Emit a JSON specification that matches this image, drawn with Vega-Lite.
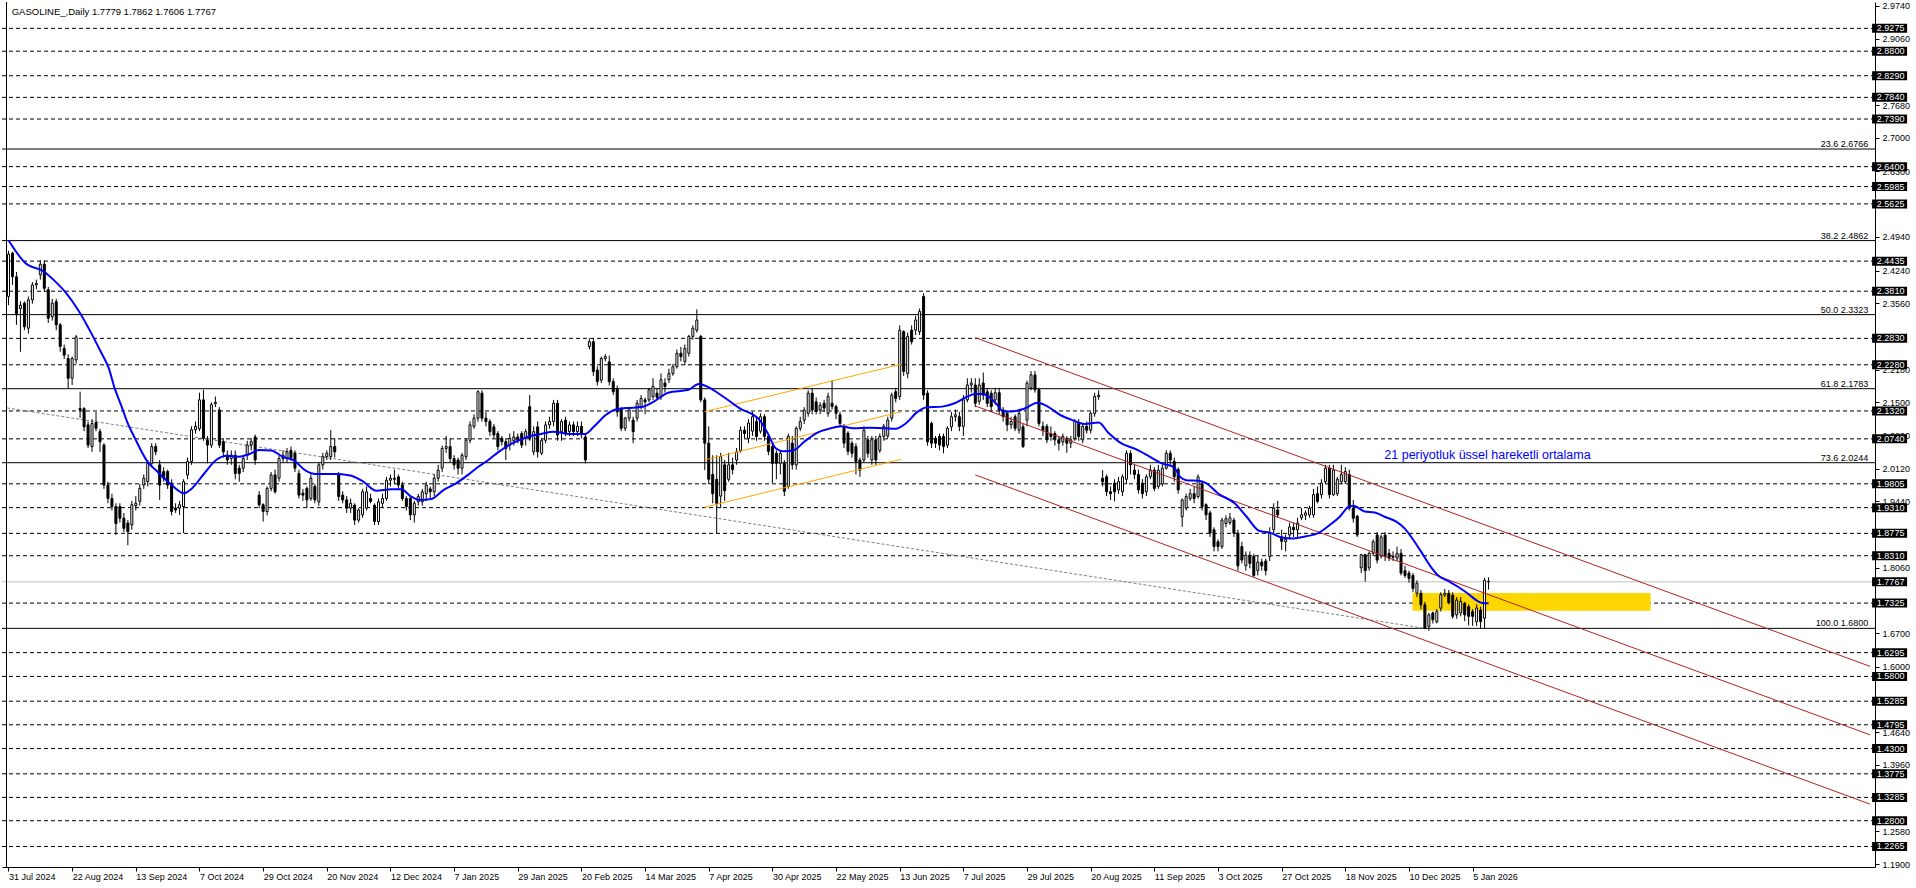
{
  "$schema": "https://vega.github.io/schema/vega-lite/v6.json",
  "width": 1873,
  "height": 865,
  "autosize": {"type": "none"},
  "padding": {"left": 2, "top": 2, "right": 41, "bottom": 21},
  "background": "#ffffff",
  "config": {"view": {"stroke": null}},
  "datasets": {
    "levels": [{"v":2.9275},{"v":2.8800},{"v":2.8290},{"v":2.7840},{"v":2.7390},{"v":2.6400},{"v":2.5985},{"v":2.5625},{"v":2.4435},{"v":2.3810},{"v":2.2830},{"v":2.2280},{"v":2.1320},{"v":2.0740},{"v":1.9805},{"v":1.9310},{"v":1.8775},{"v":1.8310},{"v":1.7325},{"v":1.6295},{"v":1.5800},{"v":1.5285},{"v":1.4795},{"v":1.4300},{"v":1.3775},{"v":1.3285},{"v":1.2800},{"v":1.2265}],
    "boxes": [{"v":2.9275},{"v":2.8800},{"v":2.8290},{"v":2.7840},{"v":2.7390},{"v":2.6400},{"v":2.5985},{"v":2.5625},{"v":2.4435},{"v":2.3810},{"v":2.2830},{"v":2.2280},{"v":2.1320},{"v":2.0740},{"v":1.9805},{"v":1.9310},{"v":1.8775},{"v":1.8310},{"v":1.7767},{"v":1.7325},{"v":1.6295},{"v":1.5800},{"v":1.5285},{"v":1.4795},{"v":1.4300},{"v":1.3775},{"v":1.3285},{"v":1.2800},{"v":1.2265}],
    "fib": [{"v":2.6766,"t":"23.6 2.6766"},{"v":2.4862,"t":"38.2 2.4862"},{"v":2.3323,"t":"50.0 2.3323"},{"v":2.1783,"t":"61.8 2.1783"},{"v":2.0244,"t":"73.6 2.0244"},{"v":1.6800,"t":"100.0 1.6800"}],
    "price": [{"v":1.7767}],
    "zone": [{"a":352.9,"b":412.75,"p1":1.7537,"p2":1.7168}],
    "red": [{"a":243.0,"p1":2.2844,"b":467.875,"p2":1.6010},{"a":243.0,"p1":2.1424,"b":467.875,"p2":1.4586},{"a":243.0,"p1":1.9990,"b":467.875,"p2":1.3145}],
    "orange": [{"a":174.95,"p1":2.1305,"b":224.4,"p2":2.2291},{"a":174.95,"p1":2.0301,"b":224.4,"p2":2.1305},{"a":174.95,"p1":1.9318,"b":224.4,"p2":2.0316}],
    "grey": [{"a":-0.375,"p1":2.1383,"b":355.8,"p2":1.6802}],
    "ema": [{"i":0,"v":2.487},{"i":4.3,"v":2.439},{"i":8.9,"v":2.422},{"i":11.4,"v":2.404},{"i":14.5,"v":2.377},{"i":17.5,"v":2.342},{"i":20.6,"v":2.297},{"i":23.2,"v":2.255},{"i":25.2,"v":2.221},{"i":26.7,"v":2.179},{"i":28.3,"v":2.144},{"i":29.8,"v":2.110},{"i":31.8,"v":2.075},{"i":34.9,"v":2.027},{"i":37.4,"v":2.006},{"i":41,"v":1.978},{"i":44.1,"v":1.961},{"i":46.1,"v":1.971},{"i":49.2,"v":2.002},{"i":52.2,"v":2.030},{"i":54.8,"v":2.039},{"i":57.9,"v":2.037},{"i":60.4,"v":2.042},{"i":63,"v":2.051},{"i":66,"v":2.050},{"i":69.1,"v":2.036},{"i":71.6,"v":2.030},{"i":74.7,"v":2.008},{"i":77.2,"v":2.001},{"i":81.8,"v":2.001},{"i":85.9,"v":1.998},{"i":89,"v":1.986},{"i":92.5,"v":1.966},{"i":96.1,"v":1.969},{"i":98.7,"v":1.969},{"i":101.2,"v":1.954},{"i":103.3,"v":1.947},{"i":106.3,"v":1.949},{"i":109.4,"v":1.968},{"i":112.4,"v":1.981},{"i":115.5,"v":1.999},{"i":118.1,"v":2.016},{"i":120.6,"v":2.030},{"i":123.2,"v":2.047},{"i":126.7,"v":2.065},{"i":130.8,"v":2.079},{"i":133.9,"v":2.084},{"i":136.9,"v":2.089},{"i":141,"v":2.084},{"i":144.9,"v":2.084},{"i":147.1,"v":2.099},{"i":150.2,"v":2.124},{"i":152.2,"v":2.134},{"i":155.3,"v":2.138},{"i":159,"v":2.140},{"i":162.3,"v":2.152},{"i":165.8,"v":2.170},{"i":170.9,"v":2.176},{"i":173.5,"v":2.188},{"i":176,"v":2.181},{"i":179.6,"v":2.162},{"i":183.7,"v":2.138},{"i":188.8,"v":2.113},{"i":190.8,"v":2.086},{"i":192.9,"v":2.054},{"i":194.9,"v":2.048},{"i":197.5,"v":2.051},{"i":200,"v":2.068},{"i":203.1,"v":2.086},{"i":206.6,"v":2.096},{"i":209.2,"v":2.100},{"i":212.3,"v":2.096},{"i":216.3,"v":2.097},{"i":220.4,"v":2.096},{"i":223,"v":2.095},{"i":225.5,"v":2.106},{"i":228.6,"v":2.131},{"i":230.6,"v":2.139},{"i":234.7,"v":2.141},{"i":237.8,"v":2.148},{"i":240.8,"v":2.161},{"i":242.9,"v":2.167},{"i":244.9,"v":2.167},{"i":246.9,"v":2.158},{"i":248.5,"v":2.145},{"i":250,"v":2.131},{"i":252.1,"v":2.131},{"i":255.1,"v":2.136},{"i":258.7,"v":2.149},{"i":261.2,"v":2.141},{"i":264.3,"v":2.124},{"i":267.4,"v":2.113},{"i":270.4,"v":2.105},{"i":274,"v":2.108},{"i":276.5,"v":2.086},{"i":279.6,"v":2.065},{"i":283.2,"v":2.053},{"i":286.8,"v":2.037},{"i":289.8,"v":2.023},{"i":292.9,"v":2.015},{"i":294.5,"v":1.995},{"i":296,"v":1.988},{"i":299,"v":1.987},{"i":301,"v":1.982},{"i":304.1,"v":1.960},{"i":308.2,"v":1.940},{"i":311.2,"v":1.912},{"i":314.3,"v":1.883},{"i":317.4,"v":1.878},{"i":320,"v":1.869},{"i":323,"v":1.867},{"i":325.9,"v":1.871},{"i":329.2,"v":1.878},{"i":332.1,"v":1.895},{"i":334.6,"v":1.912},{"i":336.7,"v":1.932},{"i":338,"v":1.935},{"i":340.9,"v":1.923},{"i":343.4,"v":1.921},{"i":345.9,"v":1.912},{"i":348.8,"v":1.902},{"i":350.9,"v":1.888},{"i":352.5,"v":1.871},{"i":355,"v":1.840},{"i":357.5,"v":1.808},{"i":359.2,"v":1.791},{"i":361.7,"v":1.779},{"i":364.2,"v":1.767},{"i":366.7,"v":1.753},{"i":369.2,"v":1.737},{"i":370.9,"v":1.732},{"i":372,"v":1.732}],
    "k": [
{"i":0,"o":2.37,"h":2.465,"l":2.352,"c":2.458},{"i":1,"o":2.46,"h":2.463,"l":2.394,"c":2.411},{"i":2,"o":2.411,"h":2.421,"l":2.311,"c":2.332},{"i":3,"o":2.345,"h":2.36,"l":2.255,"c":2.352},{"i":4,"o":2.356,"h":2.36,"l":2.30,"c":2.307},{"i":5,"o":2.304,"h":2.37,"l":2.293,"c":2.363},{"i":6,"o":2.363,"h":2.40,"l":2.355,"c":2.394},{"i":7,"o":2.394,"h":2.405,"l":2.385,"c":2.397},{"i":8,"o":2.415,"h":2.445,"l":2.405,"c":2.437},{"i":9,"o":2.437,"h":2.445,"l":2.38,"c":2.387},
{"i":10,"o":2.384,"h":2.39,"l":2.315,"c":2.325},{"i":11,"o":2.328,"h":2.365,"l":2.32,"c":2.356},{"i":12,"o":2.359,"h":2.365,"l":2.30,"c":2.311},{"i":13,"o":2.311,"h":2.315,"l":2.255,"c":2.266},{"i":14,"o":2.262,"h":2.27,"l":2.24,"c":2.248},{"i":15,"o":2.241,"h":2.25,"l":2.179,"c":2.20},{"i":16,"o":2.20,"h":2.245,"l":2.186,"c":2.241},{"i":17,"o":2.238,"h":2.29,"l":2.23,"c":2.286},{"i":18,"o":2.137,"h":2.172,"l":2.117,"c":2.134},{"i":19,"o":2.137,"h":2.14,"l":2.09,"c":2.099},
{"i":20,"o":2.103,"h":2.11,"l":2.055,"c":2.061},{"i":21,"o":2.058,"h":2.115,"l":2.047,"c":2.106},{"i":22,"o":2.108,"h":2.13,"l":2.09,"c":2.096},{"i":23,"o":2.089,"h":2.095,"l":2.047,"c":2.068},{"i":24,"o":2.061,"h":2.065,"l":1.97,"c":1.978},{"i":25,"o":1.978,"h":1.985,"l":1.94,"c":1.95},{"i":26,"o":1.95,"h":1.96,"l":1.925,"c":1.933},{"i":27,"o":1.933,"h":1.94,"l":1.874,"c":1.898},{"i":28,"o":1.933,"h":1.94,"l":1.90,"c":1.909},{"i":29,"o":1.909,"h":1.92,"l":1.88,"c":1.888},
{"i":30,"o":1.899,"h":1.905,"l":1.853,"c":1.881},{"i":31,"o":1.895,"h":1.945,"l":1.885,"c":1.937},{"i":32,"o":1.935,"h":1.955,"l":1.925,"c":1.94},{"i":33,"o":1.944,"h":1.98,"l":1.935,"c":1.971},{"i":34,"o":1.978,"h":2.0,"l":1.97,"c":1.992},{"i":35,"o":1.985,"h":2.03,"l":1.975,"c":2.023},{"i":36,"o":2.023,"h":2.065,"l":2.015,"c":2.058},{"i":37,"o":2.058,"h":2.065,"l":2.04,"c":2.047},{"i":38,"o":2.02,"h":2.03,"l":1.947,"c":1.978},{"i":39,"o":2.006,"h":2.015,"l":1.985,"c":1.992},
{"i":40,"o":2.006,"h":2.01,"l":1.97,"c":1.978},{"i":41,"o":1.982,"h":1.99,"l":1.915,"c":1.923},{"i":42,"o":1.93,"h":1.94,"l":1.92,"c":1.926},{"i":43,"o":1.93,"h":1.945,"l":1.916,"c":1.937},{"i":44,"o":1.933,"h":1.99,"l":1.878,"c":1.985},{"i":45,"o":1.999,"h":2.035,"l":1.99,"c":2.027},{"i":46,"o":2.027,"h":2.10,"l":2.02,"c":2.093},{"i":47,"o":2.093,"h":2.11,"l":2.085,"c":2.10},{"i":48,"o":2.095,"h":2.17,"l":2.09,"c":2.155},{"i":49,"o":2.155,"h":2.176,"l":2.07,"c":2.075},
{"i":50,"o":2.071,"h":2.08,"l":2.023,"c":2.061},{"i":51,"o":2.061,"h":2.15,"l":2.055,"c":2.145},{"i":52,"o":2.147,"h":2.162,"l":2.14,"c":2.15},{"i":53,"o":2.134,"h":2.14,"l":2.055,"c":2.061},{"i":54,"o":2.068,"h":2.075,"l":2.035,"c":2.047},{"i":55,"o":2.04,"h":2.05,"l":2.02,"c":2.03},{"i":56,"o":2.033,"h":2.05,"l":2.02,"c":2.04},{"i":57,"o":2.04,"h":2.05,"l":1.99,"c":2.002},{"i":58,"o":2.013,"h":2.02,"l":1.985,"c":2.002},{"i":59,"o":2.013,"h":2.04,"l":2.005,"c":2.033},
{"i":60,"o":2.04,"h":2.07,"l":2.03,"c":2.061},{"i":61,"o":2.061,"h":2.075,"l":2.05,"c":2.068},{"i":62,"o":2.078,"h":2.083,"l":2.02,"c":2.03},{"i":63,"o":1.957,"h":1.965,"l":1.93,"c":1.937},{"i":64,"o":1.937,"h":1.94,"l":1.902,"c":1.923},{"i":65,"o":1.923,"h":1.975,"l":1.915,"c":1.971},{"i":66,"o":1.971,"h":2.005,"l":1.965,"c":1.999},{"i":67,"o":1.999,"h":2.01,"l":1.96,"c":1.964},{"i":68,"o":1.992,"h":2.04,"l":1.985,"c":2.033},{"i":69,"o":2.033,"h":2.05,"l":2.025,"c":2.04},
{"i":70,"o":2.033,"h":2.055,"l":2.025,"c":2.047},{"i":71,"o":2.05,"h":2.058,"l":2.028,"c":2.035},{"i":72,"o":2.044,"h":2.05,"l":2.005,"c":2.013},{"i":73,"o":2.002,"h":2.01,"l":1.95,"c":1.957},{"i":74,"o":1.961,"h":1.97,"l":1.945,"c":1.957},{"i":75,"o":1.971,"h":1.975,"l":1.93,"c":1.947},{"i":76,"o":1.95,"h":2.0,"l":1.945,"c":1.992},{"i":77,"o":1.975,"h":1.98,"l":1.94,"c":1.947},{"i":78,"o":1.943,"h":2.025,"l":1.935,"c":2.02},{"i":79,"o":2.02,"h":2.045,"l":2.01,"c":2.037},
{"i":80,"o":2.037,"h":2.05,"l":2.03,"c":2.044},{"i":81,"o":2.037,"h":2.092,"l":2.03,"c":2.058},{"i":82,"o":2.058,"h":2.075,"l":2.035,"c":2.047},{"i":83,"o":1.999,"h":2.005,"l":1.945,"c":1.954},{"i":84,"o":1.957,"h":1.965,"l":1.94,"c":1.947},{"i":85,"o":1.947,"h":1.955,"l":1.92,"c":1.93},{"i":86,"o":1.93,"h":1.95,"l":1.92,"c":1.94},{"i":87,"o":1.936,"h":1.94,"l":1.895,"c":1.905},{"i":88,"o":1.905,"h":1.93,"l":1.90,"c":1.926},{"i":89,"o":1.916,"h":1.97,"l":1.91,"c":1.964},
{"i":90,"o":1.93,"h":1.975,"l":1.925,"c":1.964},{"i":91,"o":1.95,"h":1.96,"l":1.94,"c":1.944},{"i":92,"o":1.936,"h":1.94,"l":1.895,"c":1.902},{"i":93,"o":1.902,"h":1.95,"l":1.895,"c":1.943},{"i":94,"o":1.94,"h":1.96,"l":1.93,"c":1.95},{"i":95,"o":1.95,"h":1.995,"l":1.945,"c":1.988},{"i":96,"o":1.988,"h":2.0,"l":1.975,"c":1.992},{"i":97,"o":1.992,"h":2.01,"l":1.98,"c":1.99},{"i":98,"o":1.995,"h":2.0,"l":1.97,"c":1.978},{"i":99,"o":1.978,"h":1.985,"l":1.945,"c":1.95},
{"i":100,"o":1.95,"h":1.955,"l":1.925,"c":1.933},{"i":101,"o":1.95,"h":1.955,"l":1.905,"c":1.916},{"i":102,"o":1.916,"h":1.945,"l":1.90,"c":1.94},{"i":103,"o":1.943,"h":1.96,"l":1.935,"c":1.954},{"i":104,"o":1.943,"h":1.97,"l":1.935,"c":1.964},{"i":105,"o":1.96,"h":1.985,"l":1.945,"c":1.978},{"i":106,"o":1.97,"h":1.975,"l":1.95,"c":1.964},{"i":107,"o":1.964,"h":2.0,"l":1.955,"c":1.992},{"i":108,"o":1.992,"h":2.02,"l":1.985,"c":2.009},{"i":109,"o":2.013,"h":2.06,"l":2.005,"c":2.054},
{"i":110,"o":2.054,"h":2.08,"l":2.045,"c":2.058},{"i":111,"o":2.058,"h":2.075,"l":2.025,"c":2.033},{"i":112,"o":2.033,"h":2.04,"l":2.01,"c":2.02},{"i":113,"o":2.03,"h":2.035,"l":2.0,"c":2.013},{"i":114,"o":2.013,"h":2.045,"l":2.0,"c":2.04},{"i":115,"o":2.037,"h":2.075,"l":2.03,"c":2.071},{"i":116,"o":2.071,"h":2.11,"l":2.065,"c":2.103},{"i":117,"o":2.10,"h":2.125,"l":2.095,"c":2.117},{"i":118,"o":2.117,"h":2.175,"l":2.11,"c":2.172},{"i":119,"o":2.169,"h":2.175,"l":2.11,"c":2.117},
{"i":120,"o":2.117,"h":2.13,"l":2.10,"c":2.11},{"i":121,"o":2.11,"h":2.115,"l":2.08,"c":2.089},{"i":122,"o":2.099,"h":2.105,"l":2.075,"c":2.082},{"i":123,"o":2.085,"h":2.09,"l":2.05,"c":2.058},{"i":124,"o":2.075,"h":2.08,"l":2.06,"c":2.068},{"i":125,"o":2.068,"h":2.075,"l":2.03,"c":2.054},{"i":126,"o":2.061,"h":2.085,"l":2.05,"c":2.075},{"i":127,"o":2.07,"h":2.09,"l":2.06,"c":2.078},{"i":128,"o":2.078,"h":2.085,"l":2.065,"c":2.072},{"i":129,"o":2.085,"h":2.09,"l":2.055,"c":2.061},
{"i":130,"o":2.075,"h":2.095,"l":2.06,"c":2.089},{"i":131,"o":2.141,"h":2.165,"l":2.07,"c":2.075},{"i":132,"o":2.047,"h":2.10,"l":2.04,"c":2.089},{"i":133,"o":2.099,"h":2.11,"l":2.035,"c":2.047},{"i":134,"o":2.044,"h":2.075,"l":2.04,"c":2.071},{"i":135,"o":2.071,"h":2.11,"l":2.065,"c":2.103},{"i":136,"o":2.103,"h":2.12,"l":2.095,"c":2.11},{"i":137,"o":2.11,"h":2.155,"l":2.10,"c":2.148},{"i":138,"o":2.148,"h":2.155,"l":2.07,"c":2.082},{"i":139,"o":2.089,"h":2.115,"l":2.07,"c":2.11},
{"i":140,"o":2.113,"h":2.12,"l":2.08,"c":2.085},{"i":141,"o":2.089,"h":2.11,"l":2.08,"c":2.103},{"i":142,"o":2.103,"h":2.11,"l":2.08,"c":2.089},{"i":143,"o":2.089,"h":2.11,"l":2.08,"c":2.10},{"i":144,"o":2.10,"h":2.11,"l":2.075,"c":2.085},{"i":145,"o":2.078,"h":2.085,"l":2.023,"c":2.03},{"i":146,"o":2.266,"h":2.283,"l":2.26,"c":2.276},{"i":147,"o":2.276,"h":2.283,"l":2.205,"c":2.214},{"i":148,"o":2.217,"h":2.225,"l":2.185,"c":2.193},{"i":149,"o":2.196,"h":2.245,"l":2.19,"c":2.241},
{"i":150,"o":2.241,"h":2.25,"l":2.235,"c":2.245},{"i":151,"o":2.234,"h":2.247,"l":2.185,"c":2.193},{"i":152,"o":2.193,"h":2.20,"l":2.165,"c":2.172},{"i":153,"o":2.179,"h":2.185,"l":2.12,"c":2.13},{"i":154,"o":2.137,"h":2.14,"l":2.09,"c":2.096},{"i":155,"o":2.096,"h":2.12,"l":2.09,"c":2.117},{"i":156,"o":2.117,"h":2.14,"l":2.11,"c":2.134},{"i":157,"o":2.113,"h":2.12,"l":2.065,"c":2.089},{"i":158,"o":2.117,"h":2.155,"l":2.11,"c":2.148},{"i":159,"o":2.141,"h":2.165,"l":2.135,"c":2.158},
{"i":160,"o":2.155,"h":2.16,"l":2.125,"c":2.151},{"i":161,"o":2.155,"h":2.18,"l":2.15,"c":2.176},{"i":162,"o":2.162,"h":2.20,"l":2.155,"c":2.183},{"i":163,"o":2.169,"h":2.18,"l":2.155,"c":2.16},{"i":164,"o":2.162,"h":2.21,"l":2.155,"c":2.197},{"i":165,"o":2.19,"h":2.20,"l":2.17,"c":2.183},{"i":166,"o":2.197,"h":2.22,"l":2.19,"c":2.21},{"i":167,"o":2.21,"h":2.23,"l":2.205,"c":2.224},{"i":168,"o":2.224,"h":2.26,"l":2.22,"c":2.252},{"i":169,"o":2.252,"h":2.265,"l":2.235,"c":2.245},
{"i":170,"o":2.235,"h":2.27,"l":2.228,"c":2.262},{"i":171,"o":2.252,"h":2.29,"l":2.245,"c":2.287},{"i":172,"o":2.287,"h":2.31,"l":2.28,"c":2.304},{"i":173,"o":2.30,"h":2.343,"l":2.295,"c":2.321},{"i":174,"o":2.287,"h":2.29,"l":2.15,"c":2.155},{"i":175,"o":2.155,"h":2.16,"l":2.009,"c":2.065},{"i":176,"o":2.065,"h":2.10,"l":1.98,"c":1.99},{"i":177,"o":2.00,"h":2.04,"l":1.94,"c":1.96},{"i":178,"o":1.99,"h":2.04,"l":1.878,"c":1.94},{"i":179,"o":1.955,"h":2.045,"l":1.93,"c":2.037},
{"i":180,"o":2.02,"h":2.03,"l":1.945,"c":1.966},{"i":181,"o":1.99,"h":2.045,"l":1.985,"c":2.02},{"i":182,"o":2.02,"h":2.035,"l":2.0,"c":2.01},{"i":183,"o":2.03,"h":2.055,"l":2.02,"c":2.047},{"i":184,"o":2.05,"h":2.10,"l":2.045,"c":2.092},{"i":185,"o":2.092,"h":2.10,"l":2.075,"c":2.085},{"i":186,"o":2.075,"h":2.115,"l":2.065,"c":2.107},{"i":187,"o":2.09,"h":2.13,"l":2.08,"c":2.12},{"i":188,"o":2.11,"h":2.12,"l":2.07,"c":2.079},{"i":189,"o":2.09,"h":2.127,"l":2.085,"c":2.12},
{"i":190,"o":2.12,"h":2.125,"l":2.07,"c":2.079},{"i":191,"o":2.079,"h":2.085,"l":2.04,"c":2.048},{"i":192,"o":2.058,"h":2.065,"l":1.982,"c":2.023},{"i":193,"o":2.044,"h":2.05,"l":1.99,"c":2.023},{"i":194,"o":2.023,"h":2.05,"l":2.0,"c":2.044},{"i":195,"o":2.023,"h":2.03,"l":1.955,"c":1.965},{"i":196,"o":1.975,"h":2.085,"l":1.97,"c":2.079},{"i":197,"o":2.065,"h":2.08,"l":2.01,"c":2.02},{"i":198,"o":2.02,"h":2.10,"l":2.01,"c":2.096},{"i":199,"o":2.096,"h":2.12,"l":2.09,"c":2.11},
{"i":200,"o":2.113,"h":2.14,"l":2.105,"c":2.134},{"i":201,"o":2.127,"h":2.175,"l":2.12,"c":2.169},{"i":202,"o":2.169,"h":2.18,"l":2.125,"c":2.134},{"i":203,"o":2.151,"h":2.16,"l":2.125,"c":2.131},{"i":204,"o":2.134,"h":2.15,"l":2.125,"c":2.144},{"i":205,"o":2.148,"h":2.155,"l":2.13,"c":2.138},{"i":206,"o":2.127,"h":2.17,"l":2.12,"c":2.162},{"i":207,"o":2.148,"h":2.196,"l":2.135,"c":2.141},{"i":208,"o":2.141,"h":2.145,"l":2.115,"c":2.127},{"i":209,"o":2.124,"h":2.13,"l":2.10,"c":2.106},
{"i":210,"o":2.10,"h":2.105,"l":2.055,"c":2.065},{"i":211,"o":2.086,"h":2.09,"l":2.04,"c":2.048},{"i":212,"o":2.065,"h":2.07,"l":2.035,"c":2.044},{"i":213,"o":2.058,"h":2.065,"l":2.0,"c":2.027},{"i":214,"o":2.03,"h":2.035,"l":1.995,"c":2.009},{"i":215,"o":2.03,"h":2.10,"l":2.025,"c":2.092},{"i":216,"o":2.072,"h":2.08,"l":2.035,"c":2.044},{"i":217,"o":2.03,"h":2.08,"l":2.02,"c":2.072},{"i":218,"o":2.072,"h":2.08,"l":2.02,"c":2.03},{"i":219,"o":2.05,"h":2.085,"l":2.045,"c":2.079},
{"i":220,"o":2.079,"h":2.105,"l":2.07,"c":2.10},{"i":221,"o":2.08,"h":2.12,"l":2.075,"c":2.113},{"i":222,"o":2.117,"h":2.17,"l":2.11,"c":2.165},{"i":223,"o":2.172,"h":2.18,"l":2.15,"c":2.158},{"i":224,"o":2.162,"h":2.31,"l":2.155,"c":2.30},{"i":225,"o":2.297,"h":2.30,"l":2.205,"c":2.214},{"i":226,"o":2.21,"h":2.295,"l":2.20,"c":2.287},{"i":227,"o":2.30,"h":2.31,"l":2.27,"c":2.276},{"i":228,"o":2.30,"h":2.33,"l":2.29,"c":2.321},{"i":229,"o":2.297,"h":2.345,"l":2.29,"c":2.339},
{"i":230,"o":2.37,"h":2.377,"l":2.155,"c":2.165},{"i":231,"o":2.169,"h":2.175,"l":2.06,"c":2.068},{"i":232,"o":2.106,"h":2.11,"l":2.055,"c":2.065},{"i":233,"o":2.075,"h":2.08,"l":2.055,"c":2.065},{"i":234,"o":2.079,"h":2.085,"l":2.05,"c":2.061},{"i":235,"o":2.079,"h":2.085,"l":2.044,"c":2.058},{"i":236,"o":2.061,"h":2.10,"l":2.055,"c":2.096},{"i":237,"o":2.099,"h":2.13,"l":2.09,"c":2.12},{"i":238,"o":2.12,"h":2.135,"l":2.11,"c":2.124},{"i":239,"o":2.12,"h":2.13,"l":2.09,"c":2.10},
{"i":240,"o":2.10,"h":2.165,"l":2.08,"c":2.155},{"i":241,"o":2.155,"h":2.20,"l":2.15,"c":2.186},{"i":242,"o":2.186,"h":2.20,"l":2.17,"c":2.19},{"i":243,"o":2.186,"h":2.20,"l":2.14,"c":2.148},{"i":244,"o":2.152,"h":2.20,"l":2.145,"c":2.186},{"i":245,"o":2.19,"h":2.212,"l":2.155,"c":2.165},{"i":246,"o":2.172,"h":2.18,"l":2.14,"c":2.148},{"i":247,"o":2.169,"h":2.175,"l":2.13,"c":2.141},{"i":248,"o":2.155,"h":2.18,"l":2.145,"c":2.17},{"i":249,"o":2.17,"h":2.18,"l":2.125,"c":2.134},
{"i":250,"o":2.134,"h":2.14,"l":2.11,"c":2.12},{"i":251,"o":2.127,"h":2.13,"l":2.09,"c":2.103},{"i":252,"o":2.103,"h":2.12,"l":2.095,"c":2.11},{"i":253,"o":2.12,"h":2.125,"l":2.09,"c":2.096},{"i":254,"o":2.092,"h":2.135,"l":2.085,"c":2.127},{"i":255,"o":2.099,"h":2.105,"l":2.055,"c":2.058},{"i":256,"o":2.113,"h":2.195,"l":2.10,"c":2.19},{"i":257,"o":2.18,"h":2.215,"l":2.175,"c":2.207},{"i":258,"o":2.207,"h":2.215,"l":2.17,"c":2.176},{"i":259,"o":2.176,"h":2.18,"l":2.10,"c":2.106},
{"i":260,"o":2.10,"h":2.11,"l":2.08,"c":2.092},{"i":261,"o":2.10,"h":2.105,"l":2.065,"c":2.072},{"i":262,"o":2.085,"h":2.10,"l":2.07,"c":2.079},{"i":263,"o":2.085,"h":2.09,"l":2.06,"c":2.072},{"i":264,"o":2.072,"h":2.08,"l":2.05,"c":2.065},{"i":265,"o":2.068,"h":2.085,"l":2.06,"c":2.079},{"i":266,"o":2.075,"h":2.08,"l":2.045,"c":2.065},{"i":267,"o":2.065,"h":2.08,"l":2.055,"c":2.072},{"i":268,"o":2.075,"h":2.115,"l":2.07,"c":2.11},{"i":269,"o":2.106,"h":2.115,"l":2.07,"c":2.079},
{"i":270,"o":2.072,"h":2.105,"l":2.065,"c":2.10},{"i":271,"o":2.10,"h":2.11,"l":2.085,"c":2.092},{"i":272,"o":2.092,"h":2.13,"l":2.085,"c":2.127},{"i":273,"o":2.127,"h":2.17,"l":2.12,"c":2.162},{"i":274,"o":2.162,"h":2.175,"l":2.155,"c":2.165},{"i":275,"o":1.992,"h":2.009,"l":1.975,"c":1.985},{"i":276,"o":1.995,"h":2.0,"l":1.955,"c":1.964},{"i":277,"o":1.964,"h":1.975,"l":1.947,"c":1.96},{"i":278,"o":1.982,"h":1.99,"l":1.944,"c":1.964},{"i":279,"o":1.968,"h":1.995,"l":1.96,"c":1.985},
{"i":280,"o":1.964,"h":2.0,"l":1.955,"c":1.995},{"i":281,"o":1.99,"h":2.05,"l":1.98,"c":2.044},{"i":282,"o":2.044,"h":2.05,"l":2.0,"c":2.02},{"i":283,"o":2.009,"h":2.02,"l":1.99,"c":2.0},{"i":284,"o":2.0,"h":2.01,"l":1.96,"c":1.968},{"i":285,"o":1.982,"h":1.99,"l":1.95,"c":1.96},{"i":286,"o":1.964,"h":2.0,"l":1.955,"c":1.995},{"i":287,"o":1.995,"h":2.02,"l":1.99,"c":2.009},{"i":288,"o":2.009,"h":2.015,"l":1.965,"c":1.971},{"i":289,"o":1.975,"h":2.02,"l":1.97,"c":2.009},
{"i":290,"o":1.98,"h":2.02,"l":1.975,"c":2.013},{"i":291,"o":2.013,"h":2.05,"l":2.01,"c":2.044},{"i":292,"o":2.044,"h":2.05,"l":2.02,"c":2.03},{"i":293,"o":2.027,"h":2.035,"l":1.985,"c":1.995},{"i":294,"o":2.01,"h":2.015,"l":1.96,"c":1.968},{"i":295,"o":1.912,"h":1.95,"l":1.891,"c":1.947},{"i":296,"o":1.93,"h":1.96,"l":1.925,"c":1.954},{"i":297,"o":1.95,"h":1.97,"l":1.945,"c":1.96},{"i":298,"o":1.96,"h":1.975,"l":1.94,"c":1.95},{"i":299,"o":1.954,"h":2.0,"l":1.95,"c":1.995},
{"i":300,"o":1.98,"h":1.985,"l":1.925,"c":1.933},{"i":301,"o":1.937,"h":1.94,"l":1.905,"c":1.916},{"i":302,"o":1.92,"h":1.925,"l":1.87,"c":1.878},{"i":303,"o":1.885,"h":1.89,"l":1.84,"c":1.85},{"i":304,"o":1.86,"h":1.865,"l":1.84,"c":1.85},{"i":305,"o":1.85,"h":1.91,"l":1.845,"c":1.905},{"i":306,"o":1.898,"h":1.915,"l":1.89,"c":1.908},{"i":307,"o":1.90,"h":1.92,"l":1.895,"c":1.91},{"i":308,"o":1.905,"h":1.91,"l":1.87,"c":1.878},{"i":309,"o":1.878,"h":1.885,"l":1.80,"c":1.81},
{"i":310,"o":1.85,"h":1.86,"l":1.815,"c":1.822},{"i":311,"o":1.81,"h":1.84,"l":1.80,"c":1.832},{"i":312,"o":1.832,"h":1.84,"l":1.805,"c":1.815},{"i":313,"o":1.83,"h":1.835,"l":1.787,"c":1.79},{"i":314,"o":1.80,"h":1.83,"l":1.79,"c":1.818},{"i":315,"o":1.818,"h":1.825,"l":1.80,"c":1.81},{"i":316,"o":1.82,"h":1.825,"l":1.79,"c":1.80},{"i":317,"o":1.829,"h":1.89,"l":1.82,"c":1.878},{"i":318,"o":1.885,"h":1.94,"l":1.875,"c":1.93},{"i":319,"o":1.926,"h":1.945,"l":1.91,"c":1.916},
{"i":320,"o":1.87,"h":1.885,"l":1.843,"c":1.861},{"i":321,"o":1.86,"h":1.875,"l":1.84,"c":1.865},{"i":322,"o":1.874,"h":1.90,"l":1.865,"c":1.891},{"i":323,"o":1.89,"h":1.90,"l":1.87,"c":1.885},{"i":324,"o":1.885,"h":1.91,"l":1.87,"c":1.899},{"i":325,"o":1.91,"h":1.93,"l":1.905,"c":1.916},{"i":326,"o":1.915,"h":1.925,"l":1.905,"c":1.92},{"i":327,"o":1.916,"h":1.935,"l":1.91,"c":1.93},{"i":328,"o":1.916,"h":1.97,"l":1.91,"c":1.958},{"i":329,"o":1.96,"h":1.975,"l":1.94,"c":1.944},
{"i":330,"o":1.958,"h":1.99,"l":1.95,"c":1.982},{"i":331,"o":1.985,"h":2.02,"l":1.98,"c":2.013},{"i":332,"o":2.013,"h":2.02,"l":1.95,"c":1.958},{"i":333,"o":1.958,"h":2.02,"l":1.955,"c":2.009},{"i":334,"o":1.96,"h":1.995,"l":1.955,"c":1.99},{"i":335,"o":1.985,"h":2.02,"l":1.98,"c":2.0},{"i":336,"o":1.985,"h":2.015,"l":1.98,"c":2.006},{"i":337,"o":2.0,"h":2.01,"l":1.925,"c":1.93},{"i":338,"o":1.93,"h":1.947,"l":1.90,"c":1.909},{"i":339,"o":1.913,"h":1.916,"l":1.87,"c":1.874},
{"i":340,"o":1.806,"h":1.835,"l":1.795,"c":1.833},{"i":341,"o":1.833,"h":1.835,"l":1.777,"c":1.80},{"i":342,"o":1.806,"h":1.84,"l":1.80,"c":1.836},{"i":343,"o":1.836,"h":1.865,"l":1.83,"c":1.86},{"i":344,"o":1.874,"h":1.88,"l":1.815,"c":1.822},{"i":345,"o":1.83,"h":1.875,"l":1.825,"c":1.87},{"i":346,"o":1.874,"h":1.88,"l":1.82,"c":1.829},{"i":347,"o":1.836,"h":1.845,"l":1.82,"c":1.826},{"i":348,"o":1.83,"h":1.84,"l":1.82,"c":1.828},{"i":349,"o":1.826,"h":1.85,"l":1.82,"c":1.836},
{"i":350,"o":1.836,"h":1.845,"l":1.79,"c":1.795},{"i":351,"o":1.80,"h":1.81,"l":1.785,"c":1.79},{"i":352,"o":1.795,"h":1.80,"l":1.775,"c":1.784},{"i":353,"o":1.79,"h":1.795,"l":1.755,"c":1.763},{"i":354,"o":1.753,"h":1.78,"l":1.745,"c":1.774},{"i":355,"o":1.753,"h":1.76,"l":1.72,"c":1.729},{"i":356,"o":1.729,"h":1.735,"l":1.678,"c":1.68},{"i":357,"o":1.684,"h":1.712,"l":1.675,"c":1.708},{"i":358,"o":1.712,"h":1.715,"l":1.69,"c":1.698},{"i":359,"o":1.694,"h":1.72,"l":1.69,"c":1.715},
{"i":360,"o":1.722,"h":1.755,"l":1.715,"c":1.75},{"i":361,"o":1.749,"h":1.762,"l":1.745,"c":1.753},{"i":362,"o":1.753,"h":1.76,"l":1.73,"c":1.733},{"i":363,"o":1.749,"h":1.755,"l":1.70,"c":1.705},{"i":364,"o":1.708,"h":1.745,"l":1.70,"c":1.739},{"i":365,"o":1.712,"h":1.745,"l":1.705,"c":1.736},{"i":366,"o":1.732,"h":1.735,"l":1.695,"c":1.708},{"i":367,"o":1.725,"h":1.73,"l":1.686,"c":1.705},{"i":368,"o":1.715,"h":1.72,"l":1.685,"c":1.705},{"i":369,"o":1.694,"h":1.73,"l":1.685,"c":1.722},
{"i":370,"o":1.718,"h":1.725,"l":1.68,"c":1.694},{"i":371,"o":1.701,"h":1.785,"l":1.68,"c":1.78},{"i":372,"o":1.7779,"h":1.7862,"l":1.7606,"c":1.7767}
    ]
  },
  "layer": [
    {
      "data": {"name": "levels"},
      "mark": {"type": "rule", "color": "#000000", "strokeWidth": 1, "strokeDash": [4, 3]},
      "encoding": {
        "y": {"field": "v", "type": "quantitative", "title": null,
          "scale": {"domain": [1.1838, 2.9823], "nice": false, "zero": false},
          "axis": {"orient": "right", "title": null, "grid": false, "format": ".4f",
            "values": [2.974, 2.906, 2.768, 2.700, 2.630, 2.494, 2.424, 2.356, 2.218, 2.150, 2.080, 2.012, 1.944, 1.806, 1.670, 1.600, 1.464, 1.396, 1.258, 1.190],
            "tickSize": 4, "tickColor": "#000000", "domainColor": "#000000", "domainWidth": 1,
            "labelFont": "Liberation Sans", "labelFontSize": 9, "labelColor": "#000000", "labelPadding": 3,
            "labelOverlap": false, "labelBound": false, "labelFlush": false}
        }
      }
    },
    {
      "data": {"name": "fib"},
      "mark": {"type": "rule", "color": "#000000", "strokeWidth": 1},
      "encoding": {"y": {"field": "v", "type": "quantitative", "title": null}}
    },
    {
      "data": {"name": "price"},
      "mark": {"type": "rule", "color": "#c0c0c0", "strokeWidth": 1},
      "encoding": {"y": {"field": "v", "type": "quantitative", "title": null}}
    },
    {
      "data": {"name": "zone"},
      "mark": {"type": "rect", "color": "#ffd700", "opacity": 1},
      "encoding": {
        "x": {"field": "a", "type": "quantitative", "title": null},
        "x2": {"field": "b"},
        "y": {"field": "p1", "type": "quantitative", "title": null},
        "y2": {"field": "p2"}
      }
    },
    {
      "data": {"name": "grey"},
      "mark": {"type": "rule", "color": "#808080", "strokeWidth": 1, "strokeDash": [3, 2]},
      "encoding": {
        "x": {"field": "a", "type": "quantitative", "title": null},
        "x2": {"field": "b"},
        "y": {"field": "p1", "type": "quantitative", "title": null},
        "y2": {"field": "p2"}
      }
    },
    {
      "data": {"name": "k"},
      "mark": {"type": "rule", "color": "#000000", "strokeWidth": 1},
      "encoding": {
        "x": {"field": "i", "type": "quantitative", "title": null,
          "scale": {"domain": [-0.375, 467.875], "nice": false, "zero": false},
          "axis": {"title": null, "grid": false,
            "values": [0,16,32,48,64,80,96,112,128,144,160,176,192,208,224,240,256,272,288,304,320,336,352,368],
            "labelExpr": "['31 Jul 2024','22 Aug 2024','13 Sep 2024','7 Oct 2024','29 Oct 2024','20 Nov 2024','12 Dec 2024','7 Jan 2025','29 Jan 2025','20 Feb 2025','14 Mar 2025','7 Apr 2025','30 Apr 2025','22 May 2025','13 Jun 2025','7 Jul 2025','29 Jul 2025','20 Aug 2025','11 Sep 2025','3 Oct 2025','27 Oct 2025','18 Nov 2025','10 Dec 2025','5 Jan 2026'][round(datum.value/16)]",
            "tickSize": 4, "tickColor": "#000000", "domainColor": "#000000", "domainWidth": 1,
            "labelAlign": "left", "labelBaseline": "top", "labelPadding": 1, "labelOffset": 0,
            "labelFont": "Liberation Sans", "labelFontSize": 9, "labelColor": "#000000",
            "labelOverlap": false, "labelBound": false, "labelFlush": false}
        },
        "y": {"field": "l", "type": "quantitative", "title": null},
        "y2": {"field": "h"}
      }
    },
    {
      "data": {"name": "k"},
      "mark": {"type": "bar", "orient": "vertical", "size": 2, "stroke": "#000000", "strokeWidth": 1},
      "encoding": {
        "x": {"field": "i", "type": "quantitative", "title": null},
        "y": {"field": "o", "type": "quantitative", "title": null},
        "y2": {"field": "c"},
        "fill": {"condition": {"test": "datum.c >= datum.o", "value": "#ffffff"}, "value": "#000000"}
      }
    },
    {
      "data": {"name": "orange"},
      "mark": {"type": "rule", "color": "#ffa500", "strokeWidth": 1},
      "encoding": {
        "x": {"field": "a", "type": "quantitative", "title": null},
        "x2": {"field": "b"},
        "y": {"field": "p1", "type": "quantitative", "title": null},
        "y2": {"field": "p2"}
      }
    },
    {
      "data": {"name": "red"},
      "mark": {"type": "rule", "color": "#b22222", "strokeWidth": 1},
      "encoding": {
        "x": {"field": "a", "type": "quantitative", "title": null},
        "x2": {"field": "b"},
        "y": {"field": "p1", "type": "quantitative", "title": null},
        "y2": {"field": "p2"}
      }
    },
    {
      "data": {"name": "ema"},
      "mark": {"type": "line", "color": "#0000ff", "strokeWidth": 2, "interpolate": "monotone"},
      "encoding": {
        "x": {"field": "i", "type": "quantitative", "title": null},
        "y": {"field": "v", "type": "quantitative", "title": null}
      }
    },
    {
      "data": {"name": "fib"},
      "mark": {"type": "text", "align": "right", "baseline": "alphabetic", "dy": -2, "font": "Liberation Sans", "fontSize": 9, "color": "#000000"},
      "encoding": {
        "x": {"datum": 467.45, "type": "quantitative"},
        "y": {"field": "v", "type": "quantitative", "title": null},
        "text": {"field": "t", "type": "nominal"}
      }
    },
    {
      "data": {"name": "boxes"},
      "mark": {"type": "tick", "orient": "horizontal", "size": 35, "thickness": 9, "color": "#000000", "opacity": 1},
      "encoding": {
        "x": {"datum": 472.8, "type": "quantitative"},
        "y": {"field": "v", "type": "quantitative", "title": null}
      }
    },
    {
      "data": {"name": "boxes"},
      "mark": {"type": "text", "align": "left", "baseline": "middle", "font": "Liberation Sans", "fontSize": 9, "color": "#ffffff"},
      "encoding": {
        "x": {"datum": 469.6, "type": "quantitative"},
        "y": {"field": "v", "type": "quantitative", "title": null},
        "text": {"field": "v", "type": "quantitative", "format": ".4f"}
      }
    },
    {
      "data": {"values": [{}]},
      "mark": {"type": "rule", "color": "#000000", "strokeWidth": 1},
      "encoding": {"x": {"datum": -0.5, "type": "quantitative"}}
    },
    {
      "data": {"values": [{}]},
      "mark": {"type": "text", "align": "left", "baseline": "middle", "font": "Liberation Sans", "fontSize": 9.5, "color": "#000000"},
      "encoding": {
        "x": {"datum": 0.8, "type": "quantitative"},
        "y": {"datum": 2.9609, "type": "quantitative"},
        "text": {"value": "GASOLINE_,Daily  1.7779 1.7862 1.7606 1.7767"}
      }
    },
    {
      "data": {"values": [{}]},
      "mark": {"type": "text", "align": "left", "baseline": "middle", "font": "Liberation Sans", "fontSize": 12.5, "color": "#0000ff"},
      "encoding": {
        "x": {"datum": 345.8, "type": "quantitative"},
        "y": {"datum": 2.0404, "type": "quantitative"},
        "text": {"value": "21 periyotluk üssel hareketli ortalama"}
      }
    }
  ]
}
